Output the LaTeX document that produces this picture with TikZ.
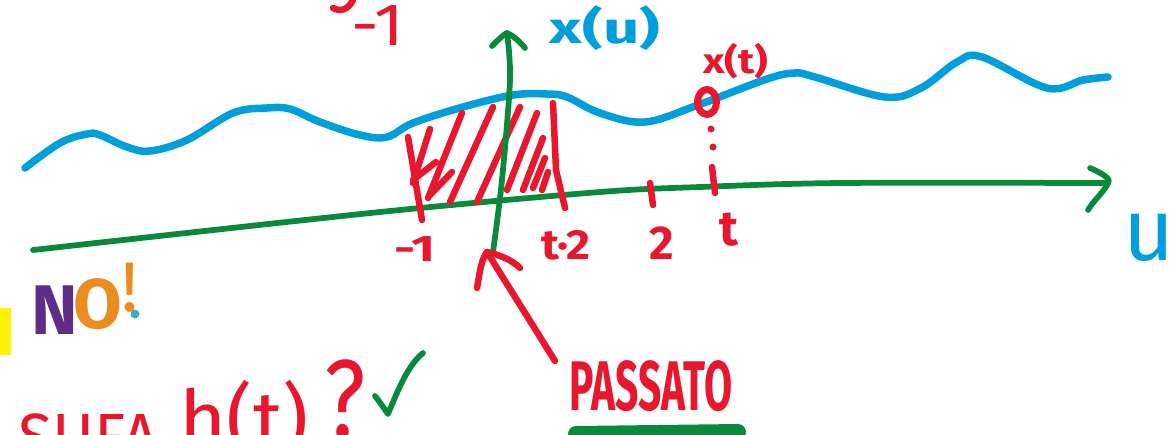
\documentclass[tikz,border=0pt]{standalone}
\usepackage{fontspec}
\setmainfont{Fira Sans}
\definecolor{penred}{RGB}{232,23,45}
\definecolor{penblue}{RGB}{0,158,219}
\definecolor{pengreen}{RGB}{10,137,60}
\definecolor{glpurple}{RGB}{95,45,135}
\definecolor{glorange}{RGB}{235,140,30}
\definecolor{glblue}{RGB}{60,170,200}
\definecolor{hlyellow}{RGB}{255,242,0}
\tikzset{
  redpen/.style={draw=penred, line width=0.13cm, line cap=round, line join=round},
  bluepen/.style={draw=penblue, line width=0.15cm, line cap=round, line join=round},
  greenpen/.style={draw=pengreen, line width=0.115cm, line cap=round, line join=round},
  hand/.style={inner sep=0pt, font=\bfseries, transform shape},
  redtext/.style={hand, text=penred},
  bluetext/.style={hand, text=penblue},
  fsz/.style={font=\fontsize{#1}{#1}\selectfont\bfseries},
  fszr/.style={font=\fontsize{#1}{#1}\selectfont},
}
\begin{document}
\begin{tikzpicture}[x=0.02cm, y=-0.02cm]
\useasboundingbox (0,0) rectangle (1176,434);
\clip (0,0) rectangle (1176,434);

% signal x(u)
\draw[bluepen] plot[smooth, tension=0.6] coordinates {(25,168) (60,143) (87,134) (100,135) (127,147) (150,151) (187,140) (233,113) (267,108) (290,109) (320,122) (360,135) (387,137) (413,123) (463,107) (513,95) (547,94) (567,97) (600,113) (645,122) (698,105) (767,79) (795,73) (815,77) (885,97) (921,88) (957,62) (982,57) (1047,88) (1083,80) (1108,77)};

% horizontal axis u
\coordinate (hstart) at (33,250);
\coordinate (hend) at (1108,183);
\draw[greenpen] plot[smooth, tension=0.5] coordinates {(hstart) (380,212) (600,192) (700,187) (840,183) (hend)};
\draw[greenpen] (1090,168) .. controls (1104,174) and (1112,180) .. (hend) .. controls (1104,192) and (1094,200) .. (1088,210);

% hatched area (past)
\draw[redpen] (408,137) -- (422,220);
\draw[redpen] (553,103) -- (556,170) -- (565,208);
\draw[redpen] (430,129) -- (413,183);
\draw[redpen] (462,113) -- (428,198);
\draw[redpen] (493,107) -- (450,202);
\draw[redpen] (520,107) -- (477,202);
\draw[redpen] (537,113) -- (507,190);
\draw[redpen] (543,138) -- (523,190);
\draw[redpen] (545,158) -- (533,188);
\draw[redpen] (548,172) -- (542,190);
\draw[redpen] (413,180) -- (436,162);
\draw[redpen] (430,195) -- (452,172);

% ticks
\draw[redpen] (650,183) -- (653,205);
\coordinate (ttick) at (712,167);
\draw[redpen] (ttick) -- (715,193);

% point x(t)
\coordinate (xt) at (707,102);
\draw[redpen, line width=0.14cm] (xt) ellipse [x radius=0.19cm, y radius=0.25cm];
\fill[penred] (711,129) circle (0.07cm);
\fill[penred] (713,147) circle (0.07cm);

% vertical axis x(u)
\coordinate (vbottom) at (493,252);
\coordinate (vtop) at (507,33);
\draw[greenpen] plot[smooth, tension=0.5] coordinates {(vbottom) (502,180) (510,80) (vtop)};
\draw[greenpen] (492,46) .. controls (498,40) and (503,35) .. (vtop) .. controls (514,36) and (520,42) .. (525,48);

% labels
\node[bluetext, fsz=25, xscale=1.45] (xu) at (605,28) {x(u)};
\node[bluetext, fszr=50] (u) at (1149,238) {u};
\node[redtext, fsz=20, xscale=1.2] (xtl) at (736,61) {x(t)};
\node[redtext, fsz=21, xscale=1.4] (m1) at (415,249) {-1};
\node[redtext, fsz=24, xscale=1.1] (tm2) at (566,245) {t·2};
\node[redtext, fsz=27] (two) at (662,243) {2};
\node[redtext, fsz=28] (tl) at (729,230) {t};
\node[redtext, fszr=34, xscale=1.15] (m1top) at (378,26) {-1};
\draw[redpen] (333,8) .. controls (340,12) and (348,10) .. (353,0);

% arrow from PASSATO
\node[redtext, fsz=40, xscale=0.58] (passato) at (651,386) {PASSATO};
\coordinate (ptip) at (487,252);
\draw[redpen] (555,361) -- (ptip);
\draw[redpen] (477,288) .. controls (480,270) and (482,258) .. (ptip) .. controls (500,255) and (512,260) .. (520,268);
\draw[pengreen, line width=0.32cm, line cap=round] (576,434) -- (738,432);

% NO!
\fill[hlyellow] (0,308) rectangle (11,355);
\node[hand, fsz=40, text=glpurple] (n) at (55,310) {N};
\node[hand, fsz=40, text=glorange] (o) at (98,304) {O};
\node[hand, fszr=40, text=glorange] (excl) at (130,288) {!};
\fill[glblue] (135,314) circle (0.09cm);

% bottom line
\node[redtext, fszr=38, xscale=0.95, anchor=north west] (sufa) at (18,413) {SUFA};
\node[redtext, fszr=46] (ht) at (244,420) {h(t)};
\node[redtext, fszr=64, xscale=0.8] (q) at (345,400) {?};
\draw[greenpen] (375,396) .. controls (380,402) and (385,410) .. (388,414) .. controls (398,390) and (408,365) .. (423,353);
\end{tikzpicture}
\end{document}
